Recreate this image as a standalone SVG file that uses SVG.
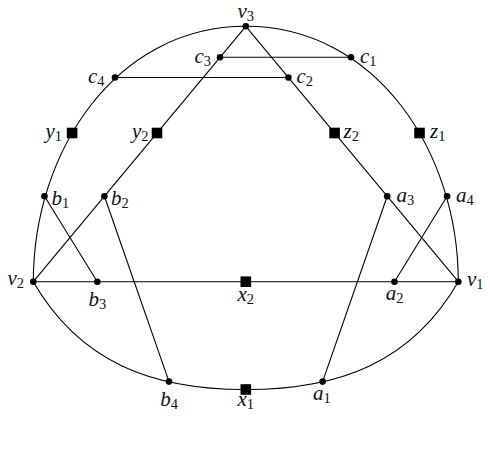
<svg xmlns="http://www.w3.org/2000/svg" width="490" height="458" viewBox="0 0 490 458">
<style>
.e{fill:none;stroke:#000;stroke-width:1.1}
.d{fill:#000}
.s{fill:#000}
text{font-family:"Liberation Serif","DejaVu Serif",serif;font-style:italic;font-size:21px;fill:#111}
tspan.sub{font-style:normal;font-size:14.5px}
.m{text-anchor:middle}
.r{text-anchor:end}
</style>
<rect width="490" height="458" fill="#fff"/>
<g id="connectors">
<path class="e" d="M33.3,281.7 C33.3,151.6 115.7,26.3 245.8,26.3 C375.9,26.3 458.3,151.6 458.3,281.7"/>
<path class="e" d="M33.3,281.7 C79.9,362.5 152.5,389.5 245.8,389.5 C339.1,389.5 411.7,362.5 458.3,281.7"/>
<line class="e" x1="245.8" y1="26.3" x2="33.3" y2="281.7"/>
<line class="e" x1="245.8" y1="26.3" x2="458.3" y2="281.7"/>
<line class="e" x1="33.3" y1="281.7" x2="458.3" y2="281.7"/>
<line class="e" x1="220" y1="57.3" x2="351" y2="57.3"/>
<line class="e" x1="115" y1="77.5" x2="288.4" y2="77.5"/>
<line class="e" x1="44.5" y1="196.3" x2="97.3" y2="281.7"/>
<line class="e" x1="104.4" y1="196.3" x2="169" y2="381.6"/>
<line class="e" x1="387.2" y1="196.3" x2="322.6" y2="381.6"/>
<line class="e" x1="447.1" y1="196.3" x2="394.5" y2="281.7"/>
</g>
<g id="v3"><circle class="d" cx="245.8" cy="26.3" r="3.3"/><text class="m" x="245.8" y="18">v<tspan class="sub" dy="3">3</tspan></text></g>
<g id="c3"><circle class="d" cx="220" cy="57.3" r="3.3"/><text class="r" x="211" y="63">c<tspan class="sub" dy="3">3</tspan></text></g>
<g id="c1"><circle class="d" cx="351" cy="57.3" r="3.3"/><text x="360" y="62.5">c<tspan class="sub" dy="3">1</tspan></text></g>
<g id="c4"><circle class="d" cx="115" cy="77.5" r="3.3"/><text class="r" x="104.5" y="82.5">c<tspan class="sub" dy="3">4</tspan></text></g>
<g id="c2"><circle class="d" cx="288.4" cy="77.5" r="3.3"/><text x="296.5" y="82.5">c<tspan class="sub" dy="3">2</tspan></text></g>
<g id="y1"><rect class="s" x="66.8" y="127.7" width="10.6" height="10.6"/><text class="r" x="62" y="138">y<tspan class="sub" dy="3">1</tspan></text></g>
<g id="y2"><rect class="s" x="151.7" y="127.7" width="10.6" height="10.6"/><text class="r" x="148.5" y="138">y<tspan class="sub" dy="3">2</tspan></text></g>
<g id="z2"><rect class="s" x="329.3" y="127.7" width="10.6" height="10.6"/><text x="343.5" y="138">z<tspan class="sub" dy="3">2</tspan></text></g>
<g id="z1"><rect class="s" x="414.2" y="127.7" width="10.6" height="10.6"/><text x="430" y="138">z<tspan class="sub" dy="3">1</tspan></text></g>
<g id="b1"><circle class="d" cx="44.5" cy="196.3" r="3.3"/><text x="51.5" y="205">b<tspan class="sub" dy="3">1</tspan></text></g>
<g id="b2"><circle class="d" cx="104.4" cy="196.3" r="3.3"/><text x="111" y="205">b<tspan class="sub" dy="3">2</tspan></text></g>
<g id="a3"><circle class="d" cx="387.2" cy="196.3" r="3.3"/><text x="396.5" y="201.7">a<tspan class="sub" dy="3">3</tspan></text></g>
<g id="a4"><circle class="d" cx="447.1" cy="196.3" r="3.3"/><text x="456" y="201.7">a<tspan class="sub" dy="3">4</tspan></text></g>
<g id="v2"><circle class="d" cx="33.3" cy="281.7" r="3.3"/><text class="r" x="24" y="285">v<tspan class="sub" dy="3">2</tspan></text></g>
<g id="b3"><circle class="d" cx="97.3" cy="281.7" r="3.3"/><text class="m" x="97.3" y="305.5">b<tspan class="sub" dy="3">3</tspan></text></g>
<g id="x2"><rect class="s" x="240.5" y="276.4" width="10.6" height="10.6"/><text class="m" x="245.8" y="301">x<tspan class="sub" dy="3">2</tspan></text></g>
<g id="a2"><circle class="d" cx="394.5" cy="281.7" r="3.3"/><text class="m" x="394.5" y="300">a<tspan class="sub" dy="3">2</tspan></text></g>
<g id="v1"><circle class="d" cx="458.3" cy="281.7" r="3.3"/><text x="467" y="285.5">v<tspan class="sub" dy="3">1</tspan></text></g>
<g id="b4"><circle class="d" cx="169" cy="381.6" r="3.3"/><text class="m" x="169" y="406">b<tspan class="sub" dy="3">4</tspan></text></g>
<g id="x1"><rect class="s" x="240.5" y="384.2" width="10.6" height="10.6"/><text class="m" x="245.8" y="405.5">x<tspan class="sub" dy="3">1</tspan></text></g>
<g id="a1"><circle class="d" cx="322.6" cy="381.6" r="3.3"/><text class="m" x="321.8" y="400">a<tspan class="sub" dy="3">1</tspan></text></g>
</svg>
